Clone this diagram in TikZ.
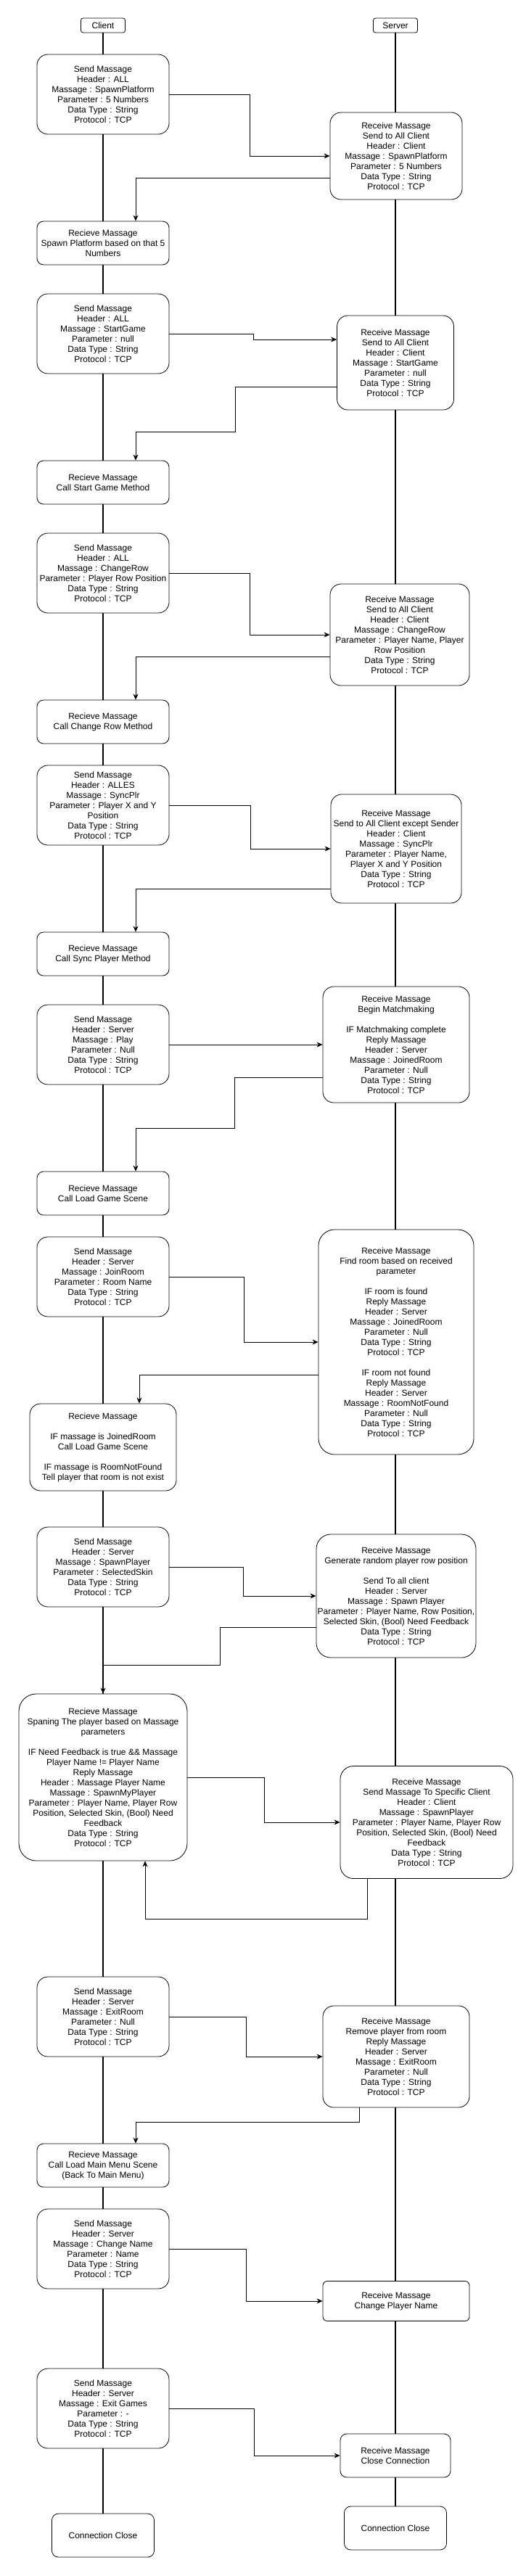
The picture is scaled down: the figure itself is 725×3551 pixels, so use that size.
\documentclass[tikz,border=0pt]{standalone}
\usepackage{fontspec}
\setmainfont{Liberation Sans}
\usetikzlibrary{positioning,arrows.meta,backgrounds}

\begin{document}
\begin{tikzpicture}[x=1pt, y=-1pt,
  every node/.style={font=\fontsize{12}{14}\selectfont},
  head/.style={draw, fill=white, rounded corners=3pt, minimum width=61pt, minimum height=20pt, inner sep=1pt, line width=0.8pt},
  msgbox/.style={draw, fill=white, rounded corners=#1, align=center, inner sep=1pt, line width=0.8pt},
  msgbox/.default=15pt,
  send/.style={msgbox, minimum width=182pt, minimum height=110pt},
  call/.style={msgbox=9pt, minimum width=182pt, minimum height=60pt},
  lifeline/.style={line width=2pt},
  link/.style={line width=0.8pt, -{Stealth[length=8pt, width=7pt, inset=2.5pt]}}]

\useasboundingbox (0,0) rectangle (725,3551);

\node[head] (client) at (142,35) {Client};
\node[head] (server) at (545,35) {Server};

% spawn platform
\node[send] (s1) at (142,130) {Send Massage\\Header : ALL\\Massage : SpawnPlatform\\Parameter : 5 Numbers\\Data Type : String\\Protocol : TCP};
\node[msgbox, minimum width=182pt, minimum height=120pt] (r1) at (546,215) {Receive Massage\\Send to All Client\\Header : Client\\Massage : SpawnPlatform\\Parameter : 5 Numbers\\Data Type : String\\Protocol : TCP};
\node[call] (c1) at (142,335) {Recieve Massage\\Spawn Platform based on that 5\\Numbers};

% start game
\node[send] (s2) at (142,460) {Send Massage\\Header : ALL\\Massage : StartGame\\Parameter : null\\Data Type : String\\Protocol : TCP};
\node[msgbox, minimum width=161pt, minimum height=130pt] (r2) at (545,500) {Receive Massage\\Send to All Client\\Header : Client\\Massage : StartGame\\Parameter : null\\Data Type : String\\Protocol : TCP};
\node[call] (c2) at (142,665) {Recieve Massage\\Call Start Game Method};

% change row
\node[send] (s3) at (142,790) {Send Massage\\Header : ALL\\Massage : ChangeRow\\Parameter : Player Row Position\\Data Type : String\\Protocol : TCP};
\node[msgbox, minimum width=192pt, minimum height=140pt] (r3) at (551,875) {Receive Massage\\Send to All Client\\Header : Client\\Massage : ChangeRow\\Parameter : Player Name, Player\\Row Position\\Data Type : String\\Protocol : TCP};
\node[call] (c3) at (142,995) {Recieve Massage\\Call Change Row Method};

% sync player
\node[send] (s4) at (142,1110) {Send Massage\\Header : ALLES\\Massage : SyncPlr\\Parameter : Player X and Y\\Position\\Data Type : String\\Protocol : TCP};
\node[msgbox, minimum width=180pt, minimum height=150pt] (r4) at (546,1170) {Receive Massage\\Send to All Client except Sender\\Header : Client\\Massage : SyncPlr\\Parameter : Player Name,\\Player X and Y Position\\Data Type : String\\Protocol : TCP};
\node[call] (c4) at (142,1315) {Recieve Massage\\Call Sync Player Method};

% matchmaking
\node[send] (s5) at (142,1440) {Send Massage\\Header : Server\\Massage : Play\\Parameter : Null\\Data Type : String\\Protocol : TCP};
\node[msgbox, minimum width=202pt, minimum height=160pt] (r5) at (546,1440) {Receive Massage\\Begin Matchmaking\\[14pt]IF Matchmaking complete\\Reply Massage\\Header : Server\\Massage : JoinedRoom\\Parameter : Null\\Data Type : String\\Protocol : TCP};
\node[call] (c5) at (142,1645) {Recieve Massage\\Call Load Game Scene};

% join room
\node[send] (s6) at (142,1760) {Send Massage\\Header : Server\\Massage : JoinRoom\\Parameter : Room Name\\Data Type : String\\Protocol : TCP};
\node[msgbox=22pt, minimum width=214pt, minimum height=310pt] (r6) at (546,1850) {Receive Massage\\Find room based on received\\parameter\\[14pt]IF room is found\\Reply Massage\\Header : Server\\Massage : JoinedRoom\\Parameter : Null\\Data Type : String\\Protocol : TCP\\[14pt]IF room not found\\Reply Massage\\Header : Server\\Massage : RoomNotFound\\Parameter : Null\\Data Type : String\\Protocol : TCP};
\node[msgbox, minimum width=202pt, minimum height=120pt] (c6) at (142,1995) {Recieve Massage\\[14pt]IF massage is JoinedRoom\\Call Load Game Scene\\[14pt]IF massage is RoomNotFound\\Tell player that room is not exist};

% spawn player
\node[send] (s7) at (142,2160) {Send Massage\\Header : Server\\Massage : SpawnPlayer\\Parameter : SelectedSkin\\Data Type : String\\Protocol : TCP};
\node[msgbox=20pt, minimum width=220pt, minimum height=170pt] (r7) at (546,2200) {Receive Massage\\Generate random player row position\\[14pt]Send To all client\\Header : Server\\Massage : Spawn Player\\Parameter : Player Name, Row Position,\\Selected Skin, (Bool) Need Feedback\\Data Type : String\\Protocol : TCP};
\node[msgbox=24pt, minimum width=232pt, minimum height=230pt] (c7) at (142,2450) {Recieve Massage\\Spaning The player based on Massage\\parameters\\[14pt]IF Need Feedback is true \&\& Massage\\Player Name != Player Name\\Reply Massage\\Header : Massage Player Name\\Massage : SpawnMyPlayer\\Parameter : Player Name, Player Row\\Position, Selected Skin, (Bool) Need\\Feedback\\Data Type : String\\Protocol : TCP};
\node[msgbox=18pt, minimum width=238pt, minimum height=155pt] (r8) at (588,2512) {Receive Massage\\Send Massage To Specific Client\\Header : Client\\Massage : SpawnPlayer\\Parameter : Player Name, Player Row\\Position, Selected Skin, (Bool) Need\\Feedback\\Data Type : String\\Protocol : TCP};

% exit room
\node[send] (s8) at (142,2780) {Send Massage\\Header : Server\\Massage : ExitRoom\\Parameter : Null\\Data Type : String\\Protocol : TCP};
\node[msgbox, minimum width=202pt, minimum height=140pt] (r9) at (546,2835) {Receive Massage\\Remove player from room\\Reply Massage\\Header : Server\\Massage : ExitRoom\\Parameter : Null\\Data Type : String\\Protocol : TCP};
\node[call] (c8) at (142,2985) {Recieve Massage\\Call Load Main Menu Scene\\(Back To Main Menu)};

% change name
\node[send] (s9) at (142,3100) {Send Massage\\Header : Server\\Massage : Change Name\\Parameter : Name\\Data Type : String\\Protocol : TCP};
\node[msgbox=6pt, minimum width=202pt, minimum height=55pt] (r10) at (546,3172) {Receive Massage\\Change Player Name};

% exit game
\node[send] (s10) at (142,3320) {Send Massage\\Header : Server\\Massage : Exit Games\\Parameter : -\\Data Type : String\\Protocol : TCP};
\node[call, minimum width=152pt] (r11) at (545,3385) {Receive Massage\\Close Connection};
\node[call, minimum width=141pt] (e1) at (142,3495) {Connection Close};
\node[call, minimum width=141pt] (e2) at (545,3485) {Connection Close};

\begin{scope}[on background layer]
\draw[lifeline] (client) -- (e1);
\draw[lifeline] (server) -- (e2);
\end{scope}

\draw[link] (s1.east) -- ++(111,0) |- (r1.west);
\draw[link] ([yshift=-30pt]r1.west) -| ([xshift=45pt]c1.north);
\draw[link] (s2.east) -- ++(116,0) |- ([yshift=32pt]r2.west);
\draw[link] ([yshift=-33pt]r2.west) -- ++(-140,0) -- ++(0,62) -| ([xshift=45pt]c2.north);
\draw[link] (s3.east) -- ++(111,0) |- (r3.west);
\draw[link] ([yshift=-30pt]r3.west) -| ([xshift=45pt]c3.north);
\draw[link] (s4.east) -- ++(112,0) |- (r4.west);
\draw[link] ([yshift=-55pt]r4.west) -| ([xshift=45pt]c4.north);
\draw[link] (s5.east) -- (r5.west);
\draw[link] ([yshift=-45pt]r5.west) -- ++(-121,0) -- ++(0,70) -| ([xshift=45pt]c5.north);
\draw[link] (s6.east) -- ++(103,0) |- (r6.west);
\draw[link] ([yshift=-45pt]r6.west) -| ([xshift=50pt]c6.north);
\draw[link] (s7.east) -- ++(102,0) |- (r7.west);
\draw[link] ([yshift=-43pt]r7.west) -- ++(-132,0) -- ++(0,52) -| (c7.north);
\draw[link] (c7.east) -- ++(106,0) |- (r8.west);
\draw[link] ([xshift=-82pt]r8.south) -- ++(0,55) -| ([xshift=58pt]c7.south);
\draw[link] (s8.east) -- ++(106,0) |- (r9.west);
\draw[link] ([xshift=-51pt]r9.south) -- ++(0,20) -| ([xshift=45pt]c8.north);
\draw[link] (s9.east) -- ++(106,0) |- (r10.west);
\draw[link] (s10.east) -- ++(117,0) |- (r11.west);

\end{tikzpicture}
\end{document}
